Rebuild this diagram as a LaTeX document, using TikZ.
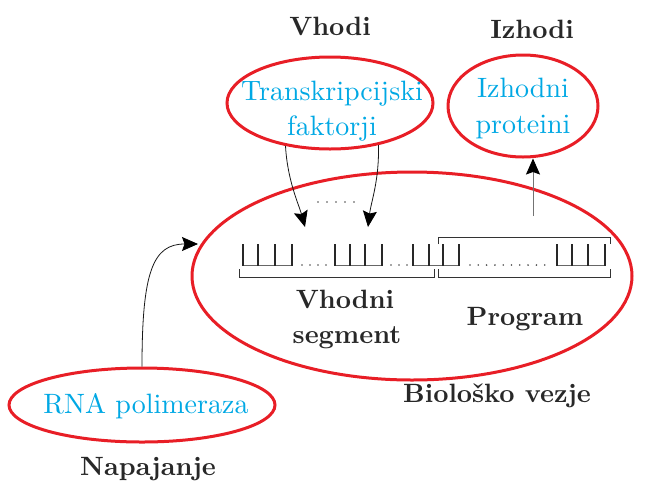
\documentclass[tikz,border=0pt]{standalone}
\usepackage{fontspec}
\setmainfont{lmroman10}[Extension=.otf, UprightFont=*-regular, BoldFont=*-bold]
\usetikzlibrary{shapes.geometric,arrows.meta}
\definecolor{ellred}{RGB}{232,30,38}
\definecolor{txtcyan}{RGB}{0,168,228}
\definecolor{inkgray}{RGB}{40,40,40}
\tikzset{
  redell/.style={ellipse, draw=ellred, line width=3pt, inner sep=0pt},
  cyantxt/.style={text=txtcyan, font=\fontsize{28}{33}\selectfont, anchor=base, inner sep=0pt},
  boldtxt/.style={text=inkgray, font=\fontsize{26.5}{32}\selectfont\bfseries, anchor=base, inner sep=0pt},
  arr/.style={-{Stealth[length=16pt,width=14pt,inset=2.5pt,black]}, line width=0.8pt, black!90},
  tick/.style={line width=1.3pt, inkgray},
  base/.style={line width=0.8pt, black!60},
  brk/.style={line width=0.9pt, black!80},
  dotf/.style={fill=black!70, draw=none},
}
\begin{document}
\begin{tikzpicture}[x=1pt,y=-1pt]
\useasboundingbox (0,0) rectangle (645,483);
% ellipses
\node[redell, minimum width=206pt, minimum height=92pt] (tf) at (330,103) {};
\node[redell, minimum width=150pt, minimum height=102pt] (izh) at (523,106) {};
\node[redell, minimum width=440pt, minimum height=208pt] (vez) at (412,276) {};
\node[redell, minimum width=266pt, minimum height=74pt] (rna) at (142,405) {};
% cyan texts
\node[cyantxt] (tf1) at (332,100) {Transkripcijski};
\node[cyantxt] (tf2) at (332,135) {faktorji};
\node[cyantxt] (iz1) at (523,97) {Izhodni};
\node[cyantxt] (iz2) at (523,133) {proteini};
\node[cyantxt] (rn1) at (146,413) {RNA polimeraza};
% bold labels
\node[boldtxt] (lvh) at (330,35) {Vhodi};
\node[boldtxt] (liz) at (532,38) {Izhodi};
\node[boldtxt] (lvs1) at (345,308) {Vhodni};
\node[boldtxt] (lvs2) at (347,343) {segment};
\node[boldtxt] (lpr) at (525,325) {Program};
\node[boldtxt] (lbv) at (497,402) {Biološko vezje};
\node[boldtxt] (lnap) at (148,475) {Napajanje};
% gene segments
\foreach \a/\b/\c/\d in {243/258/275/292, 335/350/365/382, 413/429/443/459, 557/572/588/605}{
  \draw[base] (\a,265) -- (\d,265);
  \foreach \t in {\a,\b,\c,\d} \draw[tick] (\t,244) -- (\t,265.5);
}
\foreach \x in {302,310,318,326} \fill[dotf] (\x,265) circle (0.9pt);
\foreach \x in {391,399,407} \fill[dotf] (\x,265) circle (0.9pt);
\foreach \x in {470,478.3,...,552} \fill[dotf] (\x,265) circle (0.9pt);
\foreach \x in {318,327,336,345,354} \fill[dotf] (\x,202) circle (0.9pt);
% brackets
\draw[brk] (239,269) -- (239,277) -- (434,277) -- (434,269);
\draw[brk] (438,269) -- (438,277) -- (610,277) -- (610,269);
\draw[brk] (438,244) -- (438,237) -- (610,237) -- (610,244);
% connector end points
\coordinate (tgtL) at (305,227);
\coordinate (tgtR) at (368,227);
\coordinate (tgtP) at (198,244);
\coordinate (srcO) at (533,216);
% arrows
\draw[arr] (tf.224) .. controls +(2,35) and +(-6,-22) .. (tgtL);
\draw[arr] (tf.319) .. controls +(1,35) and +(3,-25) .. (tgtR);
\draw[arr] (rna.north) .. controls +(0,-95) and +(-45,0) .. (tgtP);
\draw[arr, black!55] (srcO) -- (srcO |- izh.south);
\end{tikzpicture}
\end{document}
